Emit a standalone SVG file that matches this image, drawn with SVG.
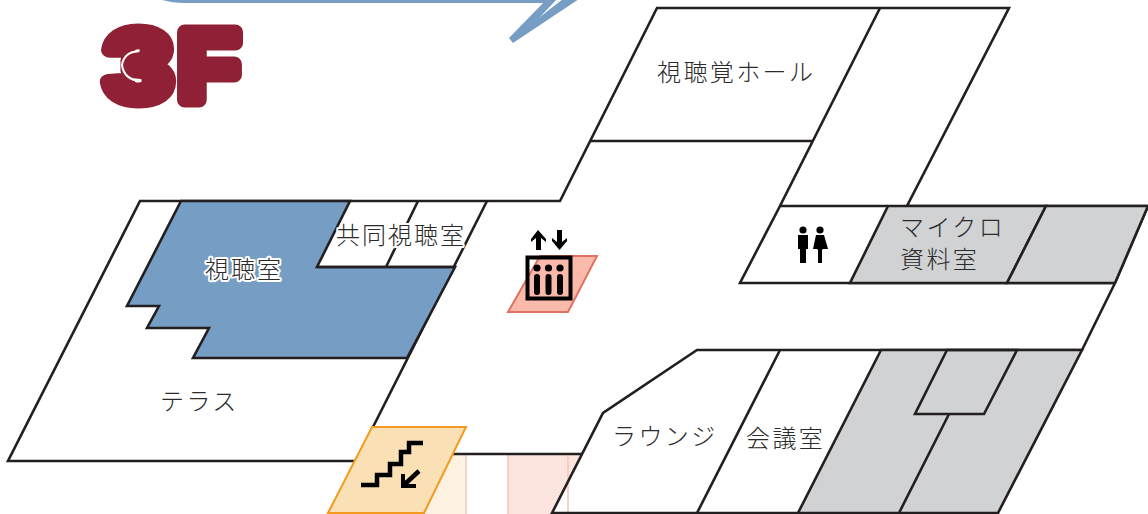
<svg xmlns="http://www.w3.org/2000/svg" width="1148" height="514" viewBox="0 0 1148 514">
<style>
.w{stroke:#231f20;stroke-width:2.6;fill:none;stroke-linejoin:miter}
.g{fill:#d1d2d4;stroke:#231f20;stroke-width:2.6}
.t{font-family:"Noto Sans CJK JP","Noto Sans",sans-serif;font-size:24px;fill:#2b2b2b;font-weight:300;letter-spacing:2.4px}
.h{stroke:#fff;stroke-width:4px;paint-order:stroke;stroke-linejoin:round}
.k{fill:#000}
.l{font-family:"Liberation Sans",sans-serif;font-weight:700;font-size:98px;fill:#8f2035;stroke:#8f2035;stroke-width:15;stroke-linejoin:round}
</style>
<rect width="1148" height="514" fill="#fff"/>
<g id="callout"><path d="M160 -3Q170 1 185 1H548" fill="none" stroke="#769dc3" stroke-width="4"/><path d="M547 -1L509 38L513 43L579 -1H563L540 17L557 -1Z" fill="#769dc3"/></g>
<g id="logo">
<text class="l" transform="translate(106 100) scale(1.2 1)">3</text>
<text class="l" transform="translate(178 100) scale(1.02 1)">F</text>
<path d="M139 51Q124 52 122 65Q124 80 141 81" fill="none" stroke="#fff" stroke-width="2"/>
</g>
<g id="accents">
<path d="M453 454H466V514H424Z" fill="#fdf2e1"/>
<path d="M466 454V514" stroke="#f3c6bb" stroke-width="1.5"/>
<path d="M508 454H582L552 514H508Z" fill="#fde4df"/>
<path d="M508 454V514M568 454V514" stroke="#f3c6bb" stroke-width="1.5"/>
</g>
<g id="connectors">
<path class="w" d="M356 461H8L140 201H560L657 8H1009L907 206H1148L1115 283L1082 350H697L603 413L552 513H998"/>
<path class="w" d="M487 201L373 427M452 454H582M590 141H812M880 8L780 206H888M780 206L740 283H1115M780 350L697 513"/>
</g>
<g id="av-hall"><text class="t" x="657" y="81">視聴覚ホール</text></g>
<g id="av-room">
<path d="M181 201H350L317 267H455L407 358H193L209 328H147L159 306H127Z" fill="#769dc3" stroke="#231f20" stroke-width="2.6"/>
<path class="w" d="M418 201L386 267M317 267H455"/>
<text class="t h" x="205" y="278" style="letter-spacing:2px">視聴室</text>
</g>
<g id="shared-room"><text class="t h" x="336" y="244" style="letter-spacing:2px">共同視聴室</text></g>
<g id="terrace"><text class="t" x="160" y="410">テラス</text></g>
<g id="toilet">
<path class="g" d="M888 206H1046L1007 283H850Z"/>
<path class="g" d="M1046 206H1148L1115 283H1007Z"/>
<g class="k">
<circle cx="803" cy="230" r="3.6"/><path d="M798 235H808V249H806V263H800V249H798Z"/>
<circle cx="820" cy="230" r="3.6"/><path d="M816 235H824L828 249H823L822 250V263H818V250L817 249H813Z"/>
</g>
<text class="t" x="900" y="236">マイクロ</text>
<text class="t" x="900" y="268">資料室</text>
</g>
<g id="grey-rooms">
<path class="g" d="M881 350H1082L998 513H798Z"/>
<path class="w" d="M947 350H1017L984 414H915ZM949 414L899 513"/>
</g>
<g id="lounge"><text class="t" x="612" y="445">ラウンジ</text></g>
<g id="meeting"><text class="t" x="746" y="447">会議室</text></g>
<g id="elevator">
<path d="M540 256H597L568 312H508Z" fill="#f9b9ab" stroke="#e0725f" stroke-width="2"/>
<rect x="527.500" y="257.500" width="43" height="41" fill="none" stroke="#000" stroke-width="4"/>
<g class="k">
<circle cx="537" cy="268" r="3.600"/><rect x="534" y="274" width="6" height="21" rx="3"/>
<circle cx="548.500" cy="268" r="3.600"/><rect x="545.500" y="274" width="6" height="21" rx="3"/>
<circle cx="560" cy="268" r="3.600"/><rect x="557" y="274" width="6" height="21" rx="3"/>
<path d="M538 230L546 239V242L541 238V250H536V238L531 242V239Z"/>
<path d="M557 230H562V242L567 238V241L559.500 250L552 241V238L557 242Z"/>
</g>
</g>
<g id="stairs">
<path d="M372 427H466L424 513H328Z" fill="#fae0b5" stroke="#f39a1f" stroke-width="2"/>
<path d="M361 485H377V475H390V464H401V452H409V443H423" fill="none" stroke="#000" stroke-width="4.500"/>
<path d="M419 471L405 484" stroke="#000" stroke-width="4.500" fill="none"/>
<path d="M401 474V488H416V484H405V474Z" fill="#000"/>
</g>
</svg>
